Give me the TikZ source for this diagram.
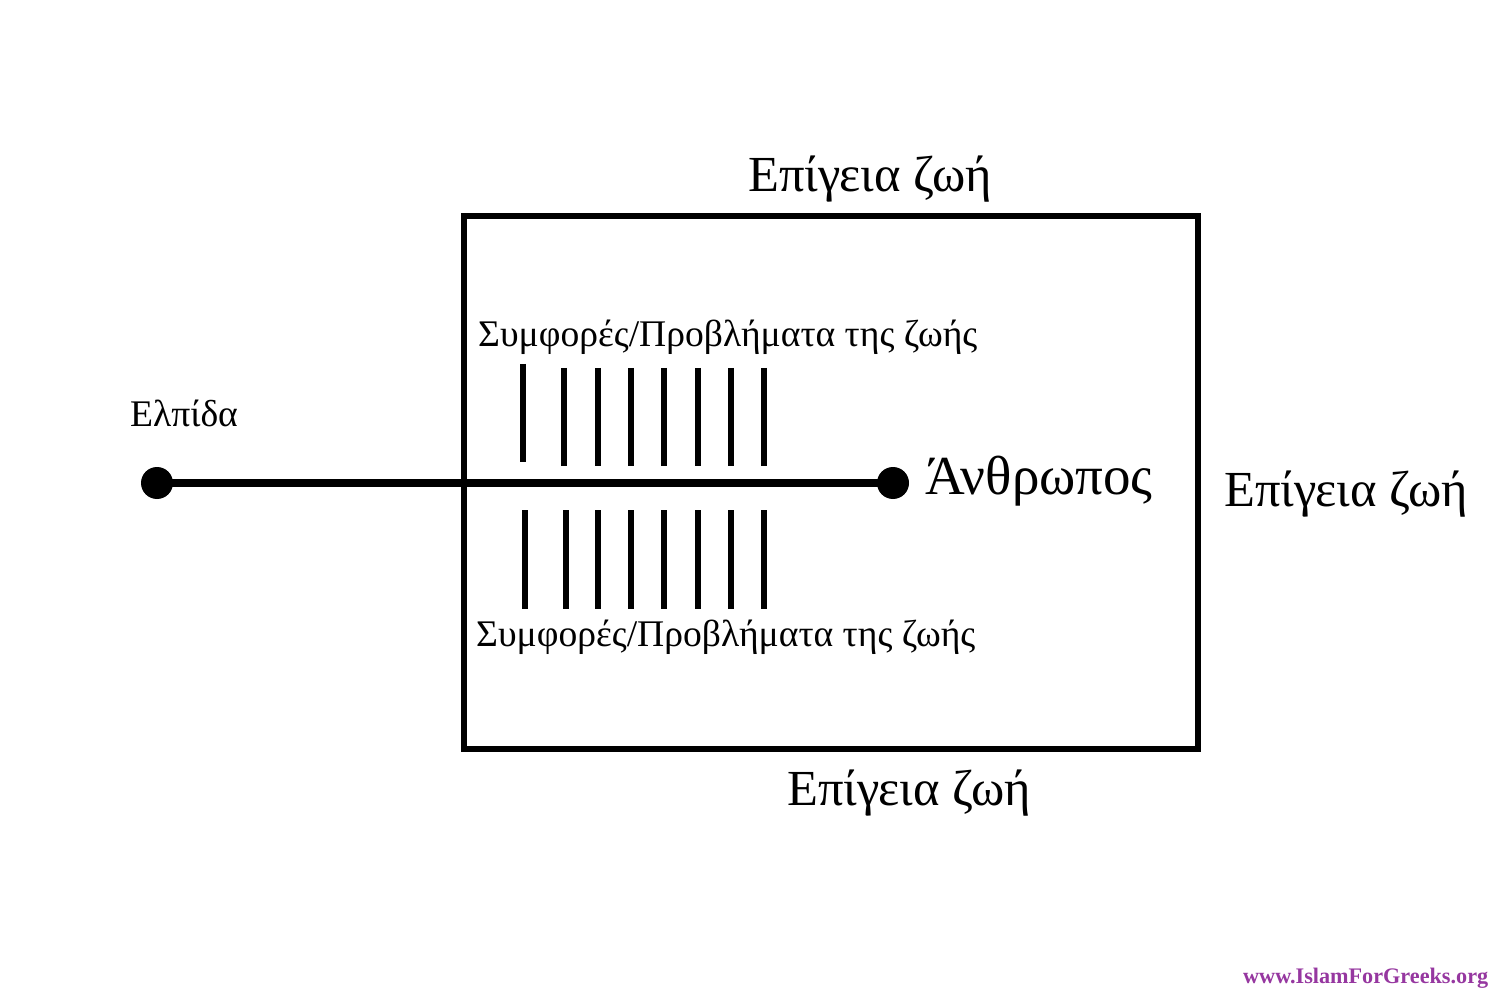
\documentclass[tikz,border=0pt]{standalone}
\usepackage{fontspec}
\setmainfont{Liberation Serif}
\definecolor{wm}{RGB}{150,55,160}
\tikzset{
  bar/.style={line width=6pt},
  lbl/.style={anchor=base west, inner sep=0pt, font=\fontsize{37.6}{42}\selectfont},
  big/.style={anchor=base west, inner sep=0pt, font=\fontsize{50.5}{56}\selectfont},
  dot/.style={circle, fill=black, minimum size=32pt, inner sep=0pt},
}
\begin{document}
\begin{tikzpicture}[x=1pt,y=-1pt]
\useasboundingbox[fill=white] (0,0) rectangle (1500,1000);
\draw[line width=6pt] (464,216) rectangle (1198,749);
\node[dot] (hope) at (157,483) {};
\node[dot] (man) at (893,483) {};
\draw[line width=7.5pt] (hope.center) -- (man.center);
\foreach \x/\t/\b in {523/364/462,564/368/466,598/368/466,631/368/466,664/368/466,698/368/466,731/368/466,764/368/466}{
  \coordinate (ut\x) at (\x,\t); \coordinate (ub\x) at (\x,\b);
  \draw[bar] (ut\x) -- (ub\x);
}
\foreach \x in {525,566,598,631,664,698,731,764}{
  \coordinate (lt\x) at (\x,510); \coordinate (lb\x) at (\x,609);
  \draw[bar] (lt\x) -- (lb\x);
}
\node[big] (top) at (748,192) {Επίγεια ζωή};
\node[big] (right) at (1224,506) {Επίγεια ζωή};
\node[big] (bottom) at (787,805) {Επίγεια ζωή};
\node[big, font=\fontsize{55}{60}\selectfont] (anthr) at (925,494) {Άνθρωπος};
\node[lbl] (up) at (478,347) {Συμφορές/Προβλήματα της ζωής};
\node[lbl] (down) at (476,646) {Συμφορές/Προβλήματα της ζωής};
\node[lbl] (elp) at (130,426) {Ελπίδα};
\node[anchor=base west, inner sep=0pt, text=wm, font=\fontsize{22.2}{26}\selectfont\bfseries] (wmk) at (1243,983) {www.IslamForGreeks.org};
\end{tikzpicture}
\end{document}
